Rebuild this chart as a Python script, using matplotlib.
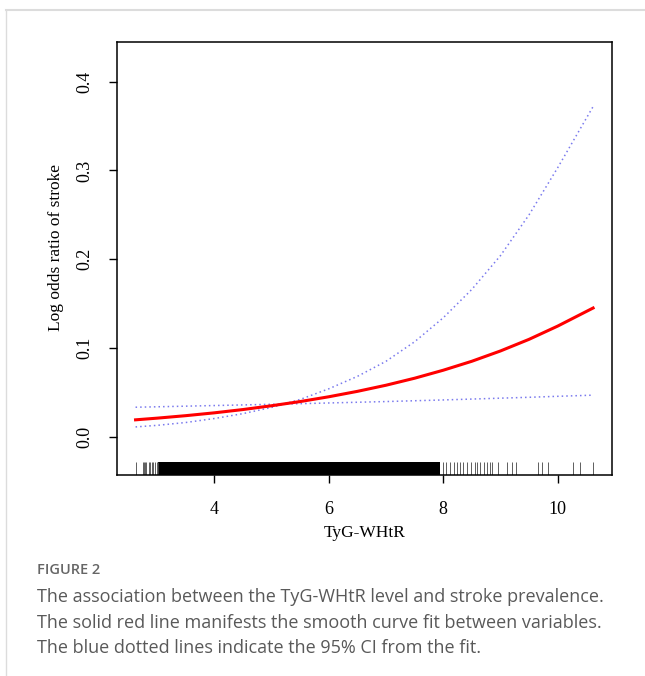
import matplotlib
matplotlib.use("Agg")
import matplotlib.pyplot as plt
from matplotlib.lines import Line2D
import matplotlib.transforms as mtransforms

# curve values
x_fit = [2.62, 3.0, 3.5, 4.0, 4.5, 5.0, 5.5, 6.0, 6.5, 7.0, 7.5, 8.0, 8.5, 9.0, 9.5, 10.0, 10.62]
fit = [0.0190, 0.0209, 0.0237, 0.0269, 0.0306, 0.0349, 0.0396, 0.0450, 0.0511, 0.0580,
       0.0659, 0.0749, 0.0850, 0.0966, 0.1097, 0.1246, 0.1450]
ci_a = [0.0110, 0.0128, 0.0160, 0.0205, 0.0260, 0.0330, 0.0420, 0.0540, 0.0680, 0.0850,
        0.1070, 0.1340, 0.1660, 0.2040, 0.2500, 0.3030, 0.3720]
ci_b = [0.0332, 0.0337, 0.0344, 0.0351, 0.0358, 0.0365, 0.0372, 0.0380, 0.0388, 0.0396,
        0.0405, 0.0414, 0.0424, 0.0434, 0.0444, 0.0455, 0.0468]

# rug: single observations plus the solid dense band
rug_left = [2.62, 2.75, 2.77, 2.79, 2.81, 2.85, 2.87, 2.90, 2.93, 2.96, 2.99, 3.02]
rug_band = (3.02, 7.95)
rug_right = [7.99, 8.05, 8.12, 8.19, 8.24, 8.29, 8.35, 8.41, 8.48, 8.55, 8.59, 8.65, 8.71,
             8.76, 8.82, 8.86, 8.96, 9.11, 9.20, 9.27, 9.66, 9.72, 9.84, 10.27, 10.39, 10.62]

xticks = [4, 6, 8, 10]
yticks = [0.0, 0.1, 0.2, 0.3, 0.4]
ytick_labels = ["0.0", "0.1", "0.2", "0.3", "0.4"]

caption_head = "FIGURE 2"
caption_lines = [
    "The association between the TyG-WHtR level and stroke prevalence.",
    "The solid red line manifests the smooth curve fit between variables.",
    "The blue dotted lines indicate the 95% CI from the fit.",
]

fig = plt.figure(figsize=(6.45, 6.76), dpi=100)
ax = fig.add_axes([0.1809, 0.2973, 0.7679, 0.6401])

serif = "Liberation Serif"

ax.plot(x_fit, ci_a, color="#7a7aee", lw=1.1, linestyle=(0, (1, 2)))
ax.plot(x_fit, ci_b, color="#7a7aee", lw=1.1, linestyle=(0, (1, 2)))
ax.plot(x_fit, fit, color="red", lw=2.2)

trans = mtransforms.blended_transform_factory(ax.transData, ax.transAxes)
rug_h = 0.031
ax.vlines(rug_left + rug_right, 0, rug_h, transform=trans, color="#444444", lw=0.6)
ax.axvspan(rug_band[0], rug_band[1], ymin=0, ymax=rug_h, color="black", lw=0)

ax.set_xlim(2.29, 10.95)
ax.set_ylim(-0.0432, 0.4444)
ax.set_xticks(xticks)
ax.set_xticklabels([str(t) for t in xticks], fontfamily=serif, fontsize=13)
ax.set_yticks(yticks)
ax.set_yticklabels(ytick_labels, fontfamily=serif, fontsize=13, rotation=90, va="center")
ax.tick_params(axis="x", length=5.5, width=1.0, pad=13)
ax.tick_params(axis="y", length=5.5, width=1.0, pad=11)
for s in ax.spines.values():
    s.set_linewidth(1.1)

ax.set_xlabel("TyG-WHtR", fontfamily=serif, fontsize=12.5, labelpad=5)
ax.set_ylabel("Log odds ratio of stroke", fontfamily=serif, fontsize=12.5)
ax.yaxis.set_label_coords(-0.107, 0.525)

# light frame around the panel
fig.add_artist(Line2D([6 / 645, 1], [1 - 10 / 676, 1 - 10 / 676], color="#dcdcdc", lw=1.5))
fig.add_artist(Line2D([6 / 645, 6 / 645], [0, 1 - 10 / 676], color="#dcdcdc", lw=1.0))

fig.text(37 / 645, 1 - 570 / 676, caption_head, fontfamily="Open Sans", fontsize=10.5,
         fontweight="semibold", color="#666666", va="center")
for i, line in enumerate(caption_lines):
    fig.text(37 / 645, 1 - (597 + 25.5 * i) / 676, line, fontfamily="Open Sans",
             fontsize=13, color="#595959", va="center")

fig.savefig("out.png", dpi=100)
